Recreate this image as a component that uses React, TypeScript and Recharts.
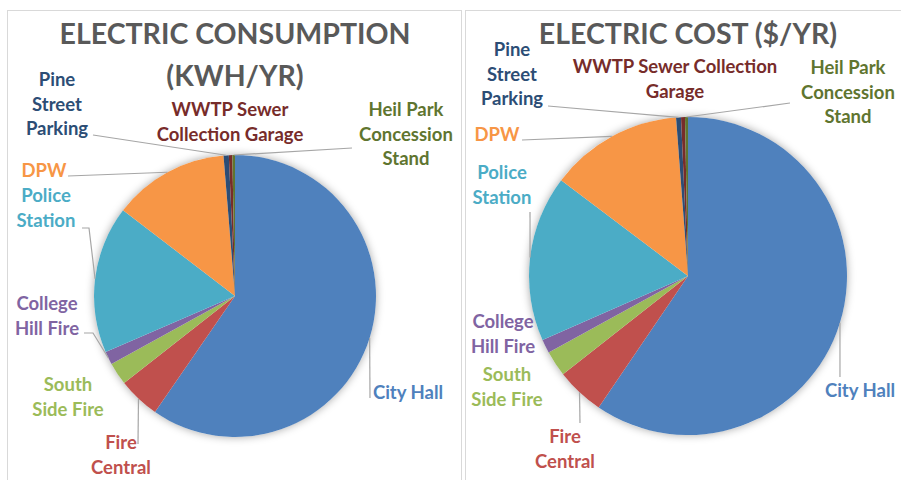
import { PieChart, Pie, Cell } from "recharts";

// slice order follows Excel: clockwise from 12 o'clock
const buildings = [
  "City Hall",
  "Fire Central",
  "South Side Fire",
  "College Hill Fire",
  "Police Station",
  "DPW",
  "Pine Street Parking",
  "WWTP Sewer Collection Garage",
  "Heil Park Concession Stand",
];

// values (approximate shares)
const consumptionKwh = [596000, 48000, 26000, 15000, 169000, 133000, 6000, 4000, 3000];
const costDollars = [59500, 4900, 2600, 1400, 16900, 13500, 500, 400, 300];

const sliceColors = [
  "#4F81BD",
  "#C0504D",
  "#9BBB59",
  "#8064A2",
  "#4BACC6",
  "#F79646",
  "#2C4D75",
  "#772C2A",
  "#5F7530",
];

const FONT = "Lato, 'Open Sans', sans-serif";

type LabelSpot = {
  lines: string[];
  dx: number;
  dy: number;
  leader?: [number, number][];
};

// label placement relative to pie centre (Excel "best fit" look)
const consumptionLabels: LabelSpot[] = [
  { lines: ["City Hall"], dx: 173, dy: 97, leader: [[135, 102]] },
  { lines: ["Fire", "Central"], dx: -114, dy: 147, leader: [[-97, 148]] },
  { lines: ["South", "Side Fire"], dx: -167, dy: 89 },
  { lines: ["College", "Hill Fire"], dx: -188, dy: 8, leader: [[-142, 37], [-151, 37]] },
  { lines: ["Police", "Station"], dx: -189, dy: -100, leader: [[-146, -68], [-153, -68]] },
  { lines: ["DPW"], dx: -191, dy: -125, leader: [[-167, -120]] },
  { lines: ["Pine", "Street", "Parking"], dx: -178, dy: -216, leader: [[-142, -161]] },
  { lines: ["WWTP Sewer", "Collection Garage"], dx: -5, dy: -186 },
  { lines: ["Heil Park", "Concession", "Stand"], dx: 171, dy: -186, leader: [[117, -148]] },
];

const costLabels: LabelSpot[] = [
  { lines: ["City Hall"], dx: 172, dy: 115, leader: [[152, 101]] },
  { lines: ["Fire", "Central"], dx: -123, dy: 161, leader: [[-108, 147]] },
  { lines: ["South", "Side Fire"], dx: -181, dy: 99 },
  { lines: ["College", "Hill Fire"], dx: -185, dy: 46 },
  { lines: ["Police", "Station"], dx: -186, dy: -103, leader: [[-158, -64]] },
  { lines: ["DPW"], dx: -191, dy: -141, leader: [[-166, -136]] },
  { lines: ["Pine", "Street", "Parking"], dx: -176, dy: -226, leader: [[-140, -170]] },
  { lines: ["WWTP Sewer Collection", "Garage"], dx: -13, dy: -209 },
  { lines: ["Heil Park", "Concession", "Stand"], dx: 160, dy: -208, leader: [[102, -173]] },
];

const consumptionData = buildings.map((name, i) => ({ name, value: consumptionKwh[i] }));
const costData = buildings.map((name, i) => ({ name, value: costDollars[i] }));
// a single white disc under each pie, only to carry the soft Excel shadow
const shadowDisc = [{ name: "shadow", value: 1 }];

const RAD = Math.PI / 180;

const makeLabel = (spots: LabelSpot[]) => (props: any) => {
  const { cx, cy, midAngle, outerRadius, index } = props;
  const spot = spots[index];
  if (!spot) return null;
  const color = sliceColors[index];
  const sx = cx + outerRadius * Math.cos(-midAngle * RAD);
  const sy = cy + outerRadius * Math.sin(-midAngle * RAD);
  const pts = spot.leader
    ? [[sx, sy], ...spot.leader.map(([x, y]) => [cx + x, cy + y])]
    : null;
  return (
    <g key={`lbl-${index}`}>
      {pts && (
        <polyline
          points={pts.map((p) => p.join(",")).join(" ")}
          fill="none"
          stroke="#A6A6A6"
          strokeWidth={1.2}
        />
      )}
      <text
        x={cx + spot.dx}
        y={cy + spot.dy}
        fill={color}
        textAnchor="middle"
        fontFamily={FONT}
        fontWeight={700}
        fontSize={18.5}
      >
        {spot.lines.map((line, i) => (
          <tspan key={i} x={cx + spot.dx} dy={i === 0 ? "0.35em" : 24.5}>
            {line}
          </tspan>
        ))}
      </text>
    </g>
  );
};

const titleStyle: React.CSSProperties = {
  position: "absolute",
  fontFamily: FONT,
  fontWeight: 700,
  fontSize: 28.5,
  color: "#595959",
  textAlign: "center",
  lineHeight: "42px",
  whiteSpace: "nowrap",
};

const shadowStyle = { filter: "drop-shadow(0px 0px 4px rgba(0,0,0,0.35))" };

export default function App() {
  return (
    <div
      style={{
        position: "absolute",
        left: 0,
        top: 0,
        width: 901,
        height: 480,
        background: "#fff",
        overflow: "hidden",
      }}
    >
      <div style={{ position: "absolute", left: 7, top: 10, width: 453, height: 480, border: "1px solid #D9D9D9" }} />
      <div style={{ position: "absolute", left: 465, top: 10, width: 460, height: 480, border: "1px solid #D9D9D9" }} />
      <div style={{ ...titleStyle, left: 35, top: 12, width: 400 }}>
        ELECTRIC CONSUMPTION
        <br />
        (KWH/YR)
      </div>
      <div style={{ ...titleStyle, left: 488, top: 12, width: 400 }}>ELECTRIC COST ($/YR)</div>
      <div style={{ position: "absolute", left: 0, top: 0 }}>
        <PieChart width={901} height={480} margin={{ top: 0, right: 0, bottom: 0, left: 0 }}>
          <Pie
            data={shadowDisc}
            dataKey="value"
            cx={235}
            cy={296}
            outerRadius={141}
            stroke="none"
            label={false}
            labelLine={false}
            isAnimationActive={false}
          >
            <Cell fill="#fff" style={shadowStyle} />
          </Pie>
          <Pie
            data={shadowDisc}
            dataKey="value"
            cx={688}
            cy={276}
            outerRadius={159}
            stroke="none"
            label={false}
            labelLine={false}
            isAnimationActive={false}
          >
            <Cell fill="#fff" style={shadowStyle} />
          </Pie>
          <Pie
            data={consumptionData}
            dataKey="value"
            nameKey="name"
            cx={235}
            cy={296}
            outerRadius={141}
            startAngle={90}
            endAngle={-270}
            stroke="none"
            label={makeLabel(consumptionLabels)}
            labelLine={false}
            isAnimationActive={false}
          >
            {consumptionData.map((d, i) => (
              <Cell key={d.name} fill={sliceColors[i]} />
            ))}
          </Pie>
          <Pie
            data={costData}
            dataKey="value"
            nameKey="name"
            cx={688}
            cy={276}
            outerRadius={159}
            startAngle={90}
            endAngle={-270}
            stroke="none"
            label={makeLabel(costLabels)}
            labelLine={false}
            isAnimationActive={false}
          >
            {costData.map((d, i) => (
              <Cell key={d.name} fill={sliceColors[i]} />
            ))}
          </Pie>
        </PieChart>
      </div>
    </div>
  );
}
